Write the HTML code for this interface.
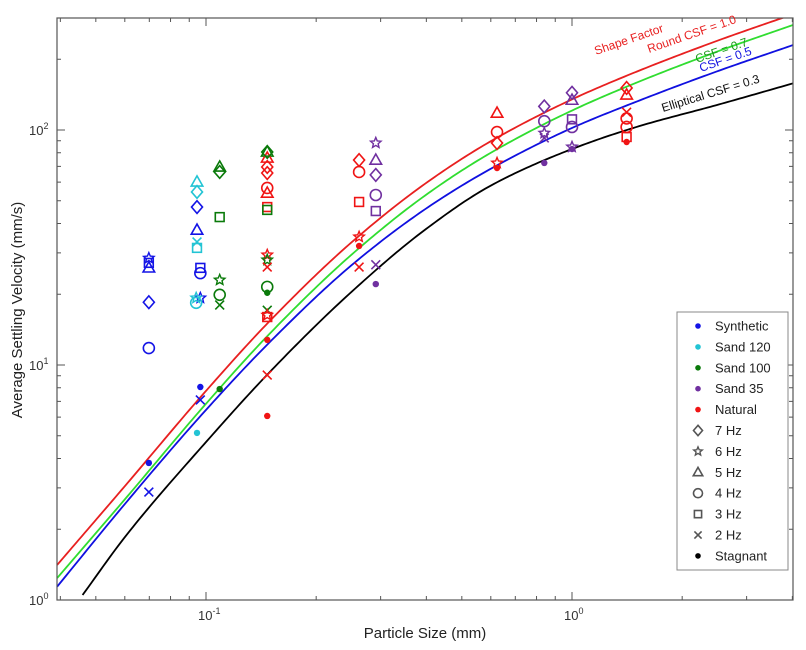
<!DOCTYPE html>
<html><head><meta charset="utf-8">
<style>
html,body{margin:0;padding:0;background:#fff;}
svg{display:block;font-family:"Liberation Sans",sans-serif;}
</style></head>
<body>
<svg id="chart" width="806" height="650" viewBox="0 0 806 650" xmlns="http://www.w3.org/2000/svg">
  <rect x="0" y="0" width="806" height="650" fill="#fff"/>
  <g id="curves"></g>
  <g id="points"></g>
  <g id="axes"></g>
  <rect x="57" y="18" width="736" height="582" fill="none" stroke="#555" stroke-width="1.2"/>
  <text x="425" y="638" font-size="15" text-anchor="middle" fill="#222">Particle Size (mm)</text>
  <text transform="translate(22,310) rotate(-90)" font-size="15" text-anchor="middle" fill="#222">Average Settling Velocity (mm/s)</text>
  <g font-size="12">
    <text transform="translate(596,55) rotate(-19)" fill="#e82020">Shape Factor</text>
    <text transform="translate(649,53) rotate(-19)" fill="#e82020">Round CSF = 1.0</text>
    <text transform="translate(697,63) rotate(-19)" fill="#1a9a1a">CSF = 0.7</text>
    <text transform="translate(701,72) rotate(-19)" fill="#1010e0">CSF = 0.5</text>
    <text transform="translate(663,112) rotate(-17)" fill="#111">Elliptical CSF = 0.3</text>
  </g>
  <g id="legend">
    <rect x="677" y="312" width="111" height="258" fill="#fff" stroke="#888" stroke-width="1"/>
  </g>
</svg>
<script>
// ---- data ----
const curveNames = ["csf-1.0","csf-0.7","csf-0.5","csf-0.3"];
const curveColors = ["#e82020","#30dd30","#1010e0","#000000"];
const curveD = [
  [0.0392,0.06,0.1,0.15,0.25,0.4,0.6,1.0,1.5,2.5,4.02],
  [0.0392,0.06,0.1,0.15,0.25,0.4,0.6,1.0,1.5,2.5,4.02],
  [0.0392,0.06,0.1,0.15,0.25,0.4,0.6,1.0,1.5,2.5,4.02],
  [0.046,0.06,0.1,0.15,0.25,0.4,0.6,1.0,1.5,2.5,4.02]
];
const curveV = [
  [1.41,3.05,7.76,15.5,33.3,59.6,89.6,135,177,240,311],
  [1.24,2.68,6.84,13.7,29.5,53.1,80.0,121,159,216,280],
  [1.14,2.56,6.44,12.6,26.6,46.4,68.4,102,132,178,230],
  [1.05,1.85,4.7,9.4,20.5,38,58,83,103,128,158]
];
const groupColors = {syn:"#1414e6",s120:"#22c4d4",s100:"#0a7a0a",s35:"#7030a0",nat:"#f01414"};
// points: size (mm), velocity (mm/s), group, marker
const ptSize = [0.0698,0.0698,0.0698,0.0698,0.0698,0.0698,0.0698,
 0.0945,0.0945,0.0945,0.0945,0.0945,0.0945,0.0965,0.0965,0.0965,0.094,0.094,0.0965,0.0965,0.0945,
 0.109,0.109,0.109,0.109,0.109,0.109,0.109,
 0.147,0.147,0.147,0.147,0.147,0.147,0.147,0.147,0.147,0.147,0.147,0.147,0.147,0.147,0.147,0.147,0.147,0.147,0.147,0.147,
 0.262,0.262,0.262,0.262,0.262,0.262,
 0.291,0.291,0.291,0.291,0.291,0.291,0.291,
 0.624,0.624,0.624,0.624,0.624,
 0.84,0.84,0.84,0.84,0.84,
 1.0,1.0,1.0,1.0,1.0,1.0,
 1.41,1.41,1.41,1.41,1.41,1.41,1.41];
const ptVel = [28.5,27.2,25.9,18.5,11.8,3.83,2.88,
 60.1,54.5,47.0,37.5,33.4,31.5,25.9,24.6,19.3,19.3,18.4,8.06,7.1,5.14,
 69.6,66.3,42.6,23.0,19.9,18.0,7.9,
 80.6,76.0,69.6,65.6,56.7,53.9,47.0,45.7,29.4,28.0,26.1,21.5,20.3,17.1,16.3,16.0,12.8,9.06,6.07,80.6,
 74.5,66.3,49.4,35.1,32.1,26.1,
 88.1,74.5,64.4,52.9,45.2,26.7,22.1,
 118,98,88,72.4,68.9,
 126,109,97,92.5,72.4,
 144,134,111,103,84.7,83,
 151,141,119,112,103,93.4,88.9];
const ptGroup = ["syn","syn","syn","syn","syn","syn","syn",
 "s120","s120","syn","syn","s120","s120","syn","syn","syn","s120","s120","syn","syn","s120",
 "s100","s100","s100","s100","s100","s100","s100",
 "s100","nat","nat","nat","nat","nat","nat","s100","nat","s100","nat","s100","s100","s100","nat","nat","nat","nat","nat","s100",
 "nat","nat","nat","nat","nat","nat",
 "s35","s35","s35","s35","s35","s35","s35",
 "nat","nat","nat","nat","nat",
 "s35","s35","s35","s35","s35",
 "s35","s35","s35","s35","s35","s35",
 "nat","nat","nat","nat","nat","nat","nat"];
const ptMarker = ["star","square","tri","diamond","circle","dot","x",
 "tri","diamond","diamond","tri","x","square","square","circle","star","star","circle","dot","x","dot",
 "tri","diamond","square","star","circle","x","dot",
 "tri","tri","diamond","diamond","circle","tri","square","square","star","star","x","circle","dot","x","star","square","dot","x","dot","diamond",
 "diamond","circle","square","star","dot","x",
 "star","tri","diamond","circle","square","x","dot",
 "tri","circle","diamond","star","dot",
 "diamond","circle","star","x","dot",
 "diamond","tri","square","circle","star","dot",
 "diamond","tri","x","circle","circle","square","dot"];
const legendLabels = ["Synthetic","Sand 120","Sand 100","Sand 35","Natural","7 Hz","6 Hz","5 Hz","4 Hz","3 Hz","2 Hz","Stagnant"];
const legendMarkers = ["dot","dot","dot","dot","dot","diamond","star","tri","circle","square","x","dot"];
const legendColors = ["#1414e6","#22c4d4","#0a7a0a","#7030a0","#f01414","#555","#555","#555","#555","#555","#555","#000"];

// ---- axes ----
const X0=57, X1=793, Y0=600, Y1=18;
const xDec=366, xRef=572;  // px of 10^0
const yDec=235;
function xs(d){return xRef + Math.log10(d)*xDec;}
function ys(v){return Y0 - Math.log10(v)*yDec;}
const NS="http://www.w3.org/2000/svg";
function mk(tag,attrs,parent){const e=document.createElementNS(NS,tag);for(const k in attrs)e.setAttribute(k,attrs[k]);parent.appendChild(e);return e;}

const axes=document.getElementById('axes');
for(let p=-2;p<=0;p++){for(let m=1;m<=9;m++){const d=m*Math.pow(10,p);const x=xs(d);if(x<X0+0.5||x>X1-0.5)continue;
 const len=m===1?8:4;
 const t=mk('path',{d:`M${x},${Y0}V${Y0-len}M${x},${Y1}V${Y1+len}`,stroke:'#555','stroke-width':1},axes);
 
 
}}
for(let p=0;p<=2;p++){for(let m=1;m<=9;m++){const v=m*Math.pow(10,p);const y=ys(v);if(y<Y1)continue;
 const len=m===1?8:4;
 const t=mk('path',{d:`M${X0},${y}H${X0+len}M${X1},${y}H${X1-len}`,stroke:'#555','stroke-width':1},axes);
 
 
}}
const xTickVals=[0.1,1], xTickExp=["-1","0"];
xTickVals.forEach((d,i)=>{const t=mk('text',{x:xs(d)-8,y:Y0+20,'font-size':13,fill:'#333'},axes);
 
 
 t.innerHTML='10<tspan dy="-6" font-size="9">'+xTickExp[i]+'</tspan>';});
const yTickVals=[1,10,100], yTickExp=["0","1","2"];
yTickVals.forEach((v,i)=>{const t=mk('text',{x:X0-28,y:ys(v)+5,'font-size':13,fill:'#333'},axes);
 
 
 t.innerHTML='10<tspan dy="-6" font-size="9">'+yTickExp[i]+'</tspan>';});

// ---- curves (monotone cubic in log-log space) ----
function monotone(xsA,ysA){
 const n=xsA.length,dx=[],m=[],t=new Array(n);
 for(let i=0;i<n-1;i++){dx.push(xsA[i+1]-xsA[i]);m.push((ysA[i+1]-ysA[i])/dx[i]);}
 t[0]=m[0];t[n-1]=m[n-2];
 for(let i=1;i<n-1;i++){
  if(m[i-1]*m[i]<=0)t[i]=0;
  else{const w1=2*dx[i]+dx[i-1],w2=dx[i]+2*dx[i-1];t[i]=(w1+w2)/(w1/m[i-1]+w2/m[i]);}
 }
 return function(x){
  let i=0;while(i<n-2&&x>xsA[i+1])i++;
  const h=dx[i],s=(x-xsA[i])/h,s2=s*s,s3=s2*s;
  return (2*s3-3*s2+1)*ysA[i]+(s3-2*s2+s)*h*t[i]+(-2*s3+3*s2)*ysA[i+1]+(s3-s2)*h*t[i+1];
 };
}
const cg=document.getElementById('curves');
const clip=mk('clipPath',{id:'plotclip'},mk('defs',{},document.getElementById('chart')));
mk('rect',{x:X0,y:Y1,width:X1-X0,height:Y0-Y1},clip);
cg.setAttribute('clip-path','url(#plotclip)');
curveD.forEach((ds,ci)=>{
 const lx=ds.map(d=>Math.log10(d)),ly=curveV[ci].map(v=>Math.log10(v));
 const f=monotone(lx,ly);
 let dstr='';
 const N=240;
 for(let k=0;k<=N;k++){
  const x=lx[0]+(lx[lx.length-1]-lx[0])*k/N;
  const y=f(x);
  dstr+=(k?'L':'M')+(xRef+x*xDec).toFixed(2)+','+(Y0-y*yDec).toFixed(2);
 }
 const path=mk('path',{d:dstr,fill:'none',stroke:curveColors[ci],'stroke-width':1.8},cg);
 
 
});

// ---- markers ----
function marker(type,x,y,color,parent,s){
 s=s||5.5;let e;
 const sw=1.6;
 if(type==='dot') e=mk('circle',{cx:x,cy:y,r:3.2,fill:color},parent);
 else if(type==='circle') e=mk('circle',{cx:x,cy:y,r:s,fill:'none',stroke:color,'stroke-width':sw},parent);
 else if(type==='square') e=mk('rect',{x:x-s*0.8,y:y-s*0.8,width:s*1.6,height:s*1.6,fill:'none',stroke:color,'stroke-width':sw},parent);
 else if(type==='diamond') e=mk('path',{d:`M${x},${y-s*1.15}L${x+s},${y}L${x},${y+s*1.15}L${x-s},${y}Z`,fill:'none',stroke:color,'stroke-width':sw},parent);
 else if(type==='tri') e=mk('path',{d:`M${x},${y-s*1.1}L${x+s*1.05},${y+s*0.75}L${x-s*1.05},${y+s*0.75}Z`,fill:'none',stroke:color,'stroke-width':sw},parent);
 else if(type==='x') e=mk('path',{d:`M${x-s*0.8},${y-s*0.8}L${x+s*0.8},${y+s*0.8}M${x+s*0.8},${y-s*0.8}L${x-s*0.8},${y+s*0.8}`,stroke:color,'stroke-width':sw},parent);
 else if(type==='star'){let d='';for(let k=0;k<10;k++){const r=k%2===0?s:s*0.45;const a=-Math.PI/2+k*Math.PI/5;d+=(k?'L':'M')+(x+r*Math.cos(a))+','+(y+r*Math.sin(a));}
  e=mk('path',{d:d+'Z',fill:'none',stroke:color,'stroke-width':1.4},parent);}
 return e;
}
const pg=document.getElementById('points');
ptSize.forEach((d,i)=>{
 const e=marker(ptMarker[i],xs(d),ys(ptVel[i]),groupColors[ptGroup[i]],pg);
 
 
});

// ---- legend ----
const lg=document.getElementById('legend');
legendLabels.forEach((lab,i)=>{
 const y=326+i*20.9;
 const m=marker(legendMarkers[i],698,y,legendColors[i],lg,legendMarkers[i]==='dot'?5:4.5);
 if(legendMarkers[i]==='dot') m.setAttribute('r',2.8);
 
 
 const t=mk('text',{x:715,y:y+4.5,'font-size':13,fill:'#222'},lg);
 t.textContent=lab;
 
 
});
</script>
</body></html>
